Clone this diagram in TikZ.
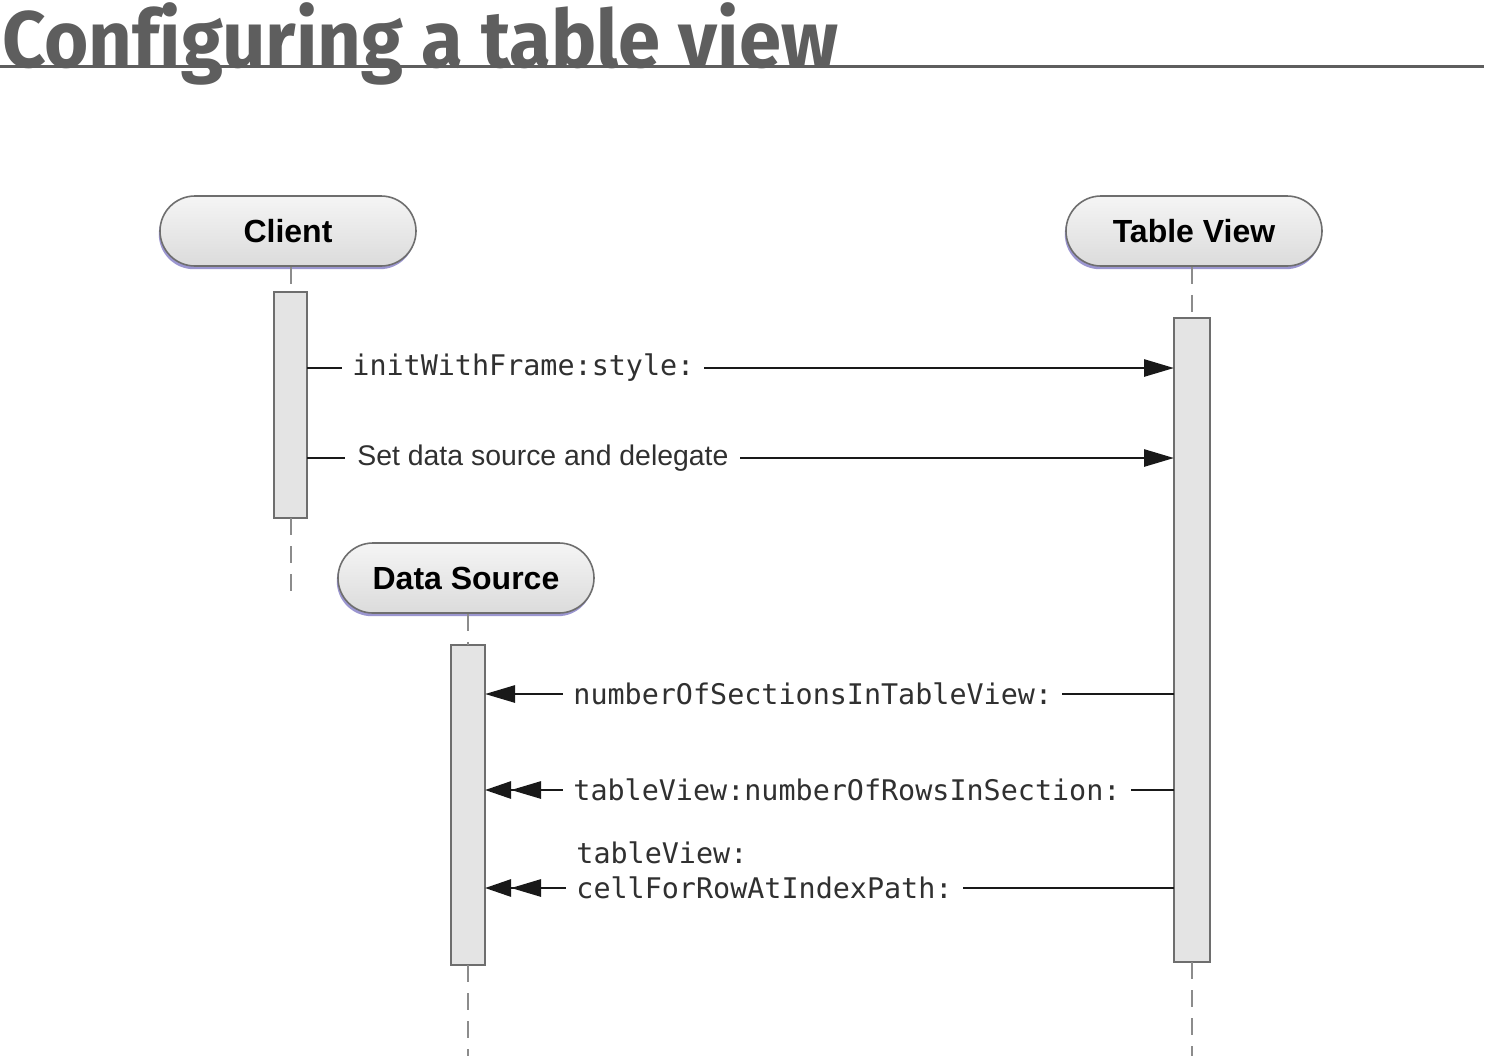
\documentclass[tikz,border=0pt]{standalone}
\usepackage{fontspec}
\usepackage{graphicx}
\setmainfont{Liberation Sans}
\setmonofont{DejaVu Sans Mono}
\newfontfamily\titlefont[Ligatures=NoCommon]{Fira Sans}
\usetikzlibrary{arrows.meta,shadows}
\definecolor{titlegray}{HTML}{5E5E5E}
\definecolor{boxfill}{HTML}{E4E4E4}
\definecolor{edgegray}{HTML}{6E6E6E}
\definecolor{lifegray}{HTML}{8C8C8C}
\definecolor{shadowc}{HTML}{8A84C8}
\definecolor{textgray}{HTML}{303030}
\begin{document}
\begin{tikzpicture}[x=0.5pt,y=-0.5pt,
  headbox/.style={draw=edgegray, line width=0.8pt, rounded corners=17.5pt,
    minimum width=128pt, minimum height=35pt, inner sep=0pt,
    top color=white!96!black, bottom color=white!86!black,
    drop shadow={shadow xshift=-0.6pt, shadow yshift=-1.6pt, fill=shadowc, opacity=0.85},
    font=\bfseries\fontsize{16}{18}\selectfont},
  actbox/.style={draw=edgegray, line width=1pt, fill=boxfill, inner sep=0pt, outer sep=0pt},
  lifeline/.style={draw=lifegray, line width=1pt, dash pattern=on 8.5pt off 5.5pt},
  msg/.style={draw=black!90, line width=1.4pt},
  onehead/.style={-{Triangle[length=15pt,width=8.5pt]}},
  twohead/.style={-{Triangle[length=15pt,width=8.5pt]Triangle[length=13pt,width=8.5pt]}},
  monolbl/.style={fill=white, inner xsep=5pt, inner ysep=2pt, text=textgray,
    font=\ttfamily\fontsize{14.2}{16}\selectfont},
  sanslbl/.style={fill=white, inner xsep=6pt, inner ysep=2pt, text=textgray,
    font=\fontsize{14.2}{16}\selectfont}
]
\useasboundingbox[fill=white] (0,0) rectangle (1510,1056);

% title
\node[anchor=base west, inner sep=0pt, text=titlegray] (title) at (2,67)
  {\scalebox{0.95}[1]{\titlefont\bfseries\fontsize{40}{44}\selectfont Conf\kern0pt iguring a table view}};
\coordinate (ruleL) at (0,66);
\coordinate (ruleR) at (1484,66);
\draw[titlegray, line width=1.5pt] (ruleL) -- (ruleR);

% heads
\node[headbox] (client) at (288,231) {Client};
\node[headbox] (tview) at (1194,231) {Table View};
\node[headbox] (dsrc) at (466,578) {Data Source};

% activation boxes
\node[actbox, minimum width=16.5pt, minimum height=113pt] (cbox) at (290.5,405) {};
\node[actbox, minimum width=18pt, minimum height=322pt] (tbox) at (1192,640) {};
\node[actbox, minimum width=17pt, minimum height=160pt] (dbox) at (468,805) {};

% lifelines
\coordinate (cend) at (290.5,600);
\coordinate (tend) at (1192,1056);
\coordinate (dend) at (468,1056);
\draw[lifeline] (cbox.north |- client.south) -- (cbox.north);
\draw[lifeline] (cbox.south) -- (cend);
\draw[lifeline] (tbox.north |- tview.south) -- (tbox.north);
\draw[lifeline] (tbox.south) -- (tend);
\draw[lifeline] (dbox.north |- dsrc.south) -- (dbox.north);
\draw[lifeline] (dbox.south) -- (dend);

% messages
\coordinate (m1) at (0,368);
\coordinate (m2) at (0,458);
\coordinate (m3) at (0,694);
\coordinate (m4) at (0,790);
\coordinate (m5) at (0,888);

\draw[msg, onehead] (cbox.east |- m1) -- (tbox.west |- m1);
\node[monolbl, anchor=west] (l1) at (342,368) {initWithFrame:style:};

\draw[msg, onehead] (cbox.east |- m2) -- (tbox.west |- m2);
\node[sanslbl, anchor=west] (l2) at (345,458) {Set data source and delegate};

\draw[msg, onehead] (tbox.west |- m3) -- (dbox.east |- m3);
\node[monolbl, anchor=west] (l3) at (563,694) {numberOfSectionsInTableView:};

\draw[msg, twohead] (tbox.west |- m4) -- (dbox.east |- m4);
\node[monolbl, anchor=west] (l4) at (563,790) {tableView:numberOfRowsInSection:};

\draw[msg, twohead] (tbox.west |- m5) -- (dbox.east |- m5);
\node[monolbl, anchor=west] (l5) at (566,888) {cellForRowAtIndexPath:};
\node[monolbl, anchor=west, fill=none] (l5a) at (566,853) {tableView:};
\end{tikzpicture}
\end{document}
